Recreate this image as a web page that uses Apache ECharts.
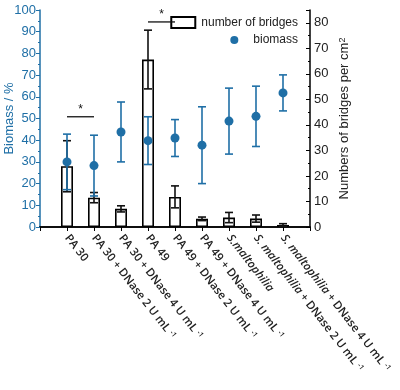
<!DOCTYPE html>
<html>
<head>
<meta charset="utf-8">
<script src="https://cdn.jsdelivr.net/npm/echarts@6/dist/echarts.min.js"></script>
<style>
  html, body { margin: 0; padding: 0; background: #fff; }
  #chart { width: 400px; height: 390px; }
</style>
</head>
<body>
<div id="chart"></div>
<script>
// categories (first and last slots are empty padding on the axis)
const categories = [
  'PA 30',
  'PA 30 + DNase 2 U mL-1',
  'PA 30 + DNase 4 U mL-1',
  'PA 49',
  'PA 49 + DNase 2 U mL-1',
  'PA 49 + DNase 4 U mL-1',
  'S.maltophilia',
  'S. maltophilia + DNase 2 U mL-1',
  'S. maltophilia + DNase 4 U mL-1'
];
// number of bridges per cm2 (right axis)
const bridges = [23.8, 11.5, 7.1, 65.6, 11.8, 3.2, 3.7, 3.3, 0.8];
const bridgesErr = [10, 2, 1.2, 11.5, 4.3, 0.7, 2, 1.4, 0.5];
// biomass % (left axis)
const biomass = [30, 28.3, 43.8, 39.8, 41, 37.7, 48.8, 51, 61.8];
const biomassErr = [12.8, 14, 13.8, 11, 8.5, 17.7, 15.2, 13.9, 8.3];
// significance brackets: [from category, to category, height on biomass axis]
const sigPairs = [[0, 1, 50.8], [3, 4, 94.5]];

const BLUE = '#1f6fa6';
const axisCats = [''].concat(categories, ['']);

function fmtLabel(s) {
  if (!s) return '';
  s = s.replace(/S\. ?maltophilia/, m => '{i|' + m + '}');
  s = s.replace(' mL-1', ' mL {s|-1}');
  return s;
}

// error bar renderer shared by both series
function errBar(color, capW) {
  return function (params, api) {
    const x = api.value(0), lo = api.value(1), hi = api.value(2);
    const pLo = api.coord([x, lo]);
    const pHi = api.coord([x, hi]);
    const st = { stroke: color, lineWidth: 1.6 };
    return {
      type: 'group',
      children: [
        { type: 'line', shape: { x1: pLo[0], y1: pLo[1], x2: pHi[0], y2: pHi[1] }, style: st },
        { type: 'line', shape: { x1: pLo[0] - capW, y1: pLo[1], x2: pLo[0] + capW, y2: pLo[1] }, style: st },
        { type: 'line', shape: { x1: pHi[0] - capW, y1: pHi[1], x2: pHi[0] + capW, y2: pHi[1] }, style: st }
      ]
    };
  };
}

const chart = echarts.init(document.getElementById('chart'), null, { renderer: 'canvas' });

const option = {
  backgroundColor: '#ffffff',
  animation: false,
  grid: { left: 40, right: 90, top: 10, bottom: 163, containLabel: false, outerBoundsMode: 'none' },
  legend: [
    {
      data: [{ name: 'number of bridges', icon: 'rect' }],
      right: 97, top: 11, itemWidth: 24, itemHeight: 11, itemGap: 4,
      textStyle: { fontFamily: 'Liberation Sans', fontSize: 12, color: '#222', padding: [0, 0, 0, 1] }
    },
    {
      data: [{ name: 'biomass', icon: 'circle' }],
      right: 97, top: 29, itemWidth: 8, itemHeight: 8, itemGap: 4,
      textStyle: { fontFamily: 'Liberation Sans', fontSize: 12, color: '#222', padding: [0, 0, 0, 10] }
    }
  ],
  xAxis: [
    {
      type: 'category', data: axisCats, boundaryGap: false,
      axisLine: { lineStyle: { color: '#000', width: 1.5 } },
      axisTick: { show: true, interval: 0, length: 4, lineStyle: { color: '#000' } },
      axisLabel: {
        interval: 0, rotate: -52, margin: 9,
        fontFamily: 'Open Sans', fontSize: 11.4, fontWeight: 600, color: '#222',
        formatter: fmtLabel,
        rich: {
          i: { fontFamily: 'Open Sans', fontSize: 11.4, fontWeight: 600, fontStyle: 'italic', color: '#222' },
          s: { fontFamily: 'Open Sans', fontSize: 7, fontWeight: 600, color: '#222', verticalAlign: 'top' }
        }
      },
      splitLine: { show: false }
    },
    {
      type: 'category', data: axisCats, boundaryGap: false, position: 'top',
      axisLine: { lineStyle: { color: '#000', width: 1.5 } },
      axisTick: { show: false }, axisLabel: { show: false }
    }
  ],
  yAxis: [
    {
      type: 'value', min: 0, max: 100, interval: 10, position: 'left',
      name: 'Biomass / %', nameLocation: 'middle', nameGap: 24, nameRotate: 90, nameMoveOverlap: false,
      nameTextStyle: { color: BLUE, fontFamily: 'Liberation Sans', fontSize: 13 },
      axisLine: { show: true, lineStyle: { color: BLUE, width: 1.5 } },
      axisTick: { show: true, length: 4, lineStyle: { color: BLUE } },
      minorTick: { show: true, splitNumber: 2, length: 2, lineStyle: { color: BLUE } },
      axisLabel: { color: BLUE, fontFamily: 'Liberation Sans', fontSize: 13, margin: 4 },
      splitLine: { show: false }
    },
    {
      type: 'value', min: 0, max: 85, interval: 10, position: 'right',
      name: 'Numbers of bridges per cm{s|2}', nameLocation: 'middle', nameGap: 28, nameRotate: 90, nameMoveOverlap: false,
      nameTextStyle: {
        color: '#222', fontFamily: 'Liberation Sans', fontSize: 13,
        rich: { s: { fontFamily: 'Liberation Sans', fontSize: 9, color: '#222', verticalAlign: 'top' } }
      },
      axisLine: { show: true, lineStyle: { color: '#000', width: 1.5 } },
      axisTick: { show: true, inside: true, length: 4, lineStyle: { color: '#000' } },
      minorTick: { show: true, splitNumber: 2, length: 2, lineStyle: { color: '#000' } },
      axisLabel: { color: '#222', fontFamily: 'Liberation Sans', fontSize: 13, margin: 4, showMaxLabel: false },
      splitLine: { show: false }
    }
  ],
  series: [
    {
      name: 'number of bridges', type: 'bar', yAxisIndex: 1, barWidth: 12,
      data: bridges.map((v, i) => [i + 1, v]),
      itemStyle: { color: '#ffffff', borderColor: '#000', borderWidth: 1.6 },
      z: 2
    },
    {
      name: 'bridgesErr', type: 'custom', yAxisIndex: 1,
      renderItem: errBar('#111', 4),
      data: bridges.map((v, i) => [i + 1, Math.max(0, v - bridgesErr[i]), v + bridgesErr[i]]),
      z: 3
    },
    {
      name: 'biomassErr', type: 'custom', yAxisIndex: 0,
      renderItem: errBar(BLUE, 4),
      data: biomass.map((v, i) => [i + 1, v - biomassErr[i], v + biomassErr[i]]),
      z: 4
    },
    {
      name: 'biomass', type: 'scatter', yAxisIndex: 0, symbolSize: 9,
      data: biomass.map((v, i) => [i + 1, v]),
      itemStyle: { color: BLUE, opacity: 1 },
      z: 5
    },
    {
      name: 'sig', type: 'custom', yAxisIndex: 0,
      renderItem: function (params, api) {
        const a = api.coord([api.value(0), api.value(2)]);
        const b = api.coord([api.value(1), api.value(2)]);
        return {
          type: 'group',
          children: [
            { type: 'line', shape: { x1: a[0], y1: a[1], x2: b[0], y2: b[1] }, style: { stroke: '#111', lineWidth: 1.3 } },
            { type: 'text', style: { text: '*', x: (a[0] + b[0]) / 2, y: a[1] - 1, align: 'center', verticalAlign: 'bottom', fontSize: 12, fontFamily: 'Liberation Sans', fill: '#111' } }
          ]
        };
      },
      data: sigPairs.map(p => [p[0] + 1, p[1] + 1, p[2]]),
      z: 6
    }
  ]
};

chart.setOption(option);
</script>
</body>
</html>
